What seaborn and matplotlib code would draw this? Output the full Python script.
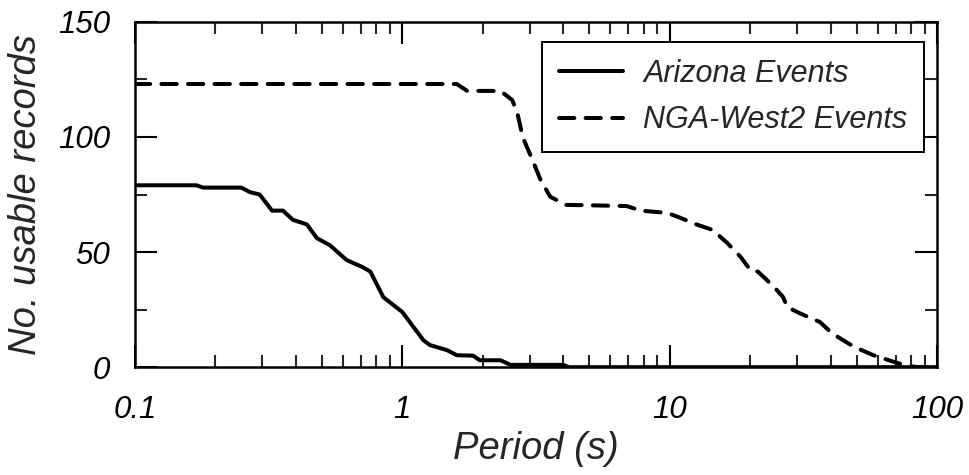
import numpy as np
import pandas as pd
import matplotlib
matplotlib.use("Agg")
import matplotlib.pyplot as plt
import seaborn as sns
from matplotlib.ticker import LogLocator, FixedLocator, NullFormatter

az_period = [0.1, 0.17, 0.18, 0.25, 0.27, 0.293, 0.326, 0.358, 0.39, 0.44, 0.48, 0.536,
             0.62, 0.71, 0.76, 0.85, 1.0, 1.2, 1.27, 1.47, 1.6, 1.84, 1.95, 2.33, 2.54,
             4.0, 4.2, 100]
az_count = [79, 79, 78, 78, 76, 75, 68, 68, 64, 62, 56, 53,
            46.5, 43.5, 41.5, 30.4, 24, 11.7, 9.6, 7.4, 5.2, 5, 3, 3, 1,
            1, 0, 0]

nga_period = [0.1, 1.6, 1.75, 2.33, 2.58, 2.7, 2.82, 3.07, 3.3, 3.58, 4.1, 6.9, 7.8,
              9.8, 10.9, 12.6, 14.5, 16.4, 18.4, 20.1, 21.4, 24.5, 26.5, 27.6, 30.7,
              36.5, 40.6, 49, 57.8, 69, 77, 85, 100]
nga_count = [123, 123, 120, 120, 116, 110, 100, 90, 81, 74, 70.5, 70, 68,
             67, 65, 62, 59.6, 54, 48, 42, 41.5, 35, 30.6, 26, 23.4,
             19.6, 14.6, 8.8, 5.2, 2.3, 0.6, 0, 0]

labels = ["Arizona Events", "NGA-West2 Events"]

df = pd.concat([
    pd.DataFrame({"Period": az_period, "Count": az_count, "Series": labels[0]}),
    pd.DataFrame({"Period": nga_period, "Count": nga_count, "Series": labels[1]}),
], ignore_index=True)

sns.set_style("ticks")
plt.rcParams["font.family"] = ["Liberation Sans", "DejaVu Sans"]
plt.rcParams["font.style"] = "italic"
plt.rcParams["lines.solid_joinstyle"] = "round"
plt.rcParams["lines.dash_capstyle"] = "round"
plt.rcParams["lines.dash_joinstyle"] = "round"

fig = plt.figure(figsize=(9.7, 4.75), dpi=100)
ax = fig.add_axes([0.139, 0.227, 0.827, 0.727])

LW = 2.9
sns.lineplot(data=df, x="Period", y="Count", hue="Series", style="Series",
             palette=["black", "black"], dashes={labels[0]: "", labels[1]: (3.8, 2.8)},
             linewidth=LW, estimator=None, sort=False, ax=ax)

ax.set_xscale("log")
ax.set_xlim(0.1, 100)
ax.set_ylim(0, 150)
ax.set_xticks([0.1, 1, 10, 100])
ax.set_xticklabels(["0.1", "1", "10", "100"])
ax.xaxis.set_minor_locator(LogLocator(base=10, subs=np.arange(2, 10)))
ax.xaxis.set_minor_formatter(NullFormatter())
ax.set_yticks([0, 50, 100, 150])
ax.yaxis.set_minor_locator(FixedLocator([25, 75, 125]))

for s in ax.spines.values():
    s.set_linewidth(1.8)
    s.set_color("black")
ax.tick_params(which="major", direction="in", length=16, width=1.5, top=True, right=True,
               labelsize=22.5, colors="black")
ax.tick_params(which="minor", direction="in", length=8.5, width=1.5, top=True, right=True)
ax.tick_params(axis="x", which="major", pad=20)
ax.tick_params(axis="y", which="major", pad=18)

ax.set_xlabel("Period (s)", fontsize=27.5, labelpad=4)
ax.set_ylabel("No. usable records", fontsize=27.5, labelpad=10)

leg = ax.legend(loc="upper right", bbox_to_anchor=(0.984, 0.942), fontsize=22,
                frameon=True, fancybox=False, edgecolor="black", framealpha=1,
                handlelength=2.1, borderpad=0.55, labelspacing=0.55, handletextpad=0.65,
                borderaxespad=0)
leg.get_frame().set_linewidth(1.4)
for line in leg.get_lines():
    line.set_linewidth(LW)

fig.savefig("out.png", dpi=100)
